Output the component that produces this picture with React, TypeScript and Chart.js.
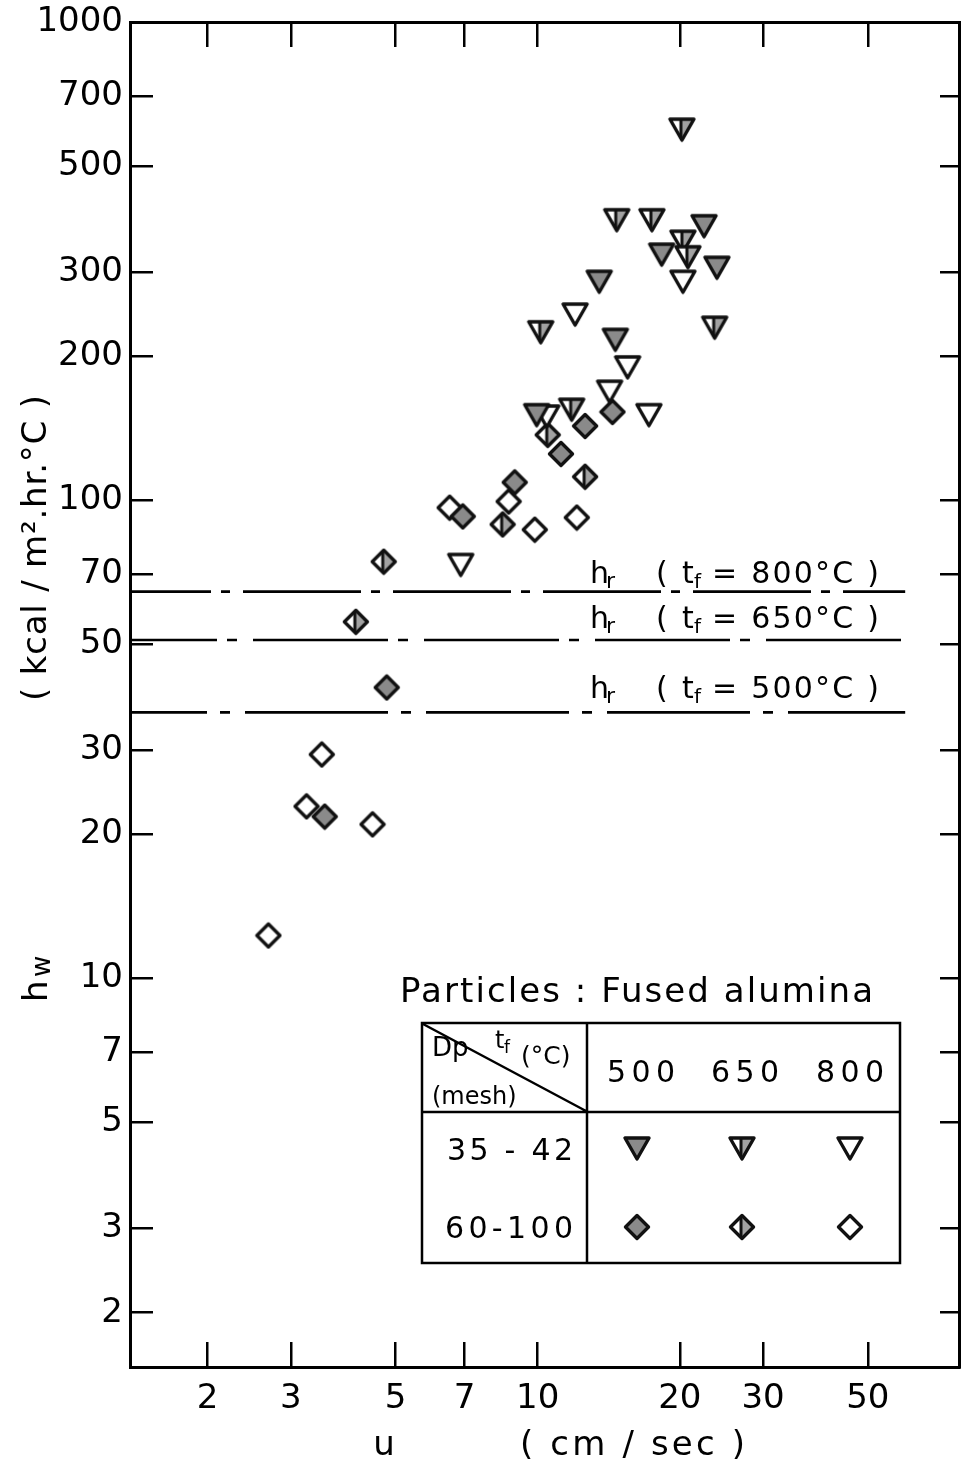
import React, { useEffect, useRef } from 'react';
import { Chart, registerables } from 'chart.js';

Chart.register(...registerables);

// ---------- data ----------
const X_TICKS = [2, 3, 5, 7, 10, 20, 30, 50];
const Y_TICKS = [2, 3, 5, 7, 10, 20, 30, 50, 70, 100, 200, 300, 500, 700, 1000];
const U_MIN = 1.37;
const U_MAX = 78;
const H_MIN = 1.54;
const H_MAX = 1000;

// 35-42 mesh (triangles)
const TRI_500_U = [22.5, 18.3, 23.96, 13.5, 14.6, 9.95];
const TRI_500_H = [375, 327, 307, 287, 217, 151];
const TRI_650_U = [20.2, 14.7, 17.45, 20.3, 20.8, 23.7, 10.15, 11.8];
const TRI_650_H = [597, 386, 386, 348, 323, 230, 225, 155];
const TRI_800_U = [20.3, 12.0, 15.5, 14.2, 17.2, 10.45, 6.87];
const TRI_800_H = [287, 245, 190, 169, 151, 150, 73.4];

// 60-100 mesh (diamonds)
const DIA_500_U = [14.4, 12.6, 11.2, 8.94, 6.94, 4.79, 3.54];
const DIA_500_H = [153, 143, 125, 109, 92.5, 40.6, 21.8];
const DIA_650_U = [10.5, 12.6, 8.43, 4.72, 4.12];
const DIA_650_H = [137, 112, 89, 74.4, 55.7];
const DIA_800_U = [8.68, 6.51, 9.86, 12.1, 3.49, 3.24, 4.47, 2.69];
const DIA_800_H = [99.4, 96.5, 86.8, 92, 29.4, 22.9, 21.0, 12.3];

// radiative coefficient lines
const HR_TEMPS = ['800', '650', '500'];
const HR_VALUES = [64.4, 51, 36];
const HR_U_END = 60;

const LEGEND_TEMPS = ['500', '650', '800'];
const LEGEND_MESH = ['35 - 42', '60-100'];

// ---------- styles ----------
const FONT = '"DejaVu Sans", "Liberation Sans", sans-serif';
const INK = '#000';
const HR_DASH = [
  [118, 10, 9, 13],
  [135, 10, 10, 16],
  [143, 13, 10, 15],
];
const HR_DASH_OFFSET = [37, 48, 66];
const HR_LABEL_BASE = [583, 628, 698];

type Shape = 'tri' | 'dia';
type Shade = 'full' | 'half' | 'none';

function makeMarker(shape: Shape, shade: Shade): HTMLCanvasElement {
  const size = shape === 'tri' ? 30 : 28;
  const c = document.createElement('canvas');
  c.width = size;
  c.height = size;
  const g = c.getContext('2d') as CanvasRenderingContext2D;
  const pts =
    shape === 'tri'
      ? [[3, 5], [27, 5], [15, 26]]
      : [[14, 2.5], [25.5, 14], [14, 25.5], [2.5, 14]];
  const path = () => {
    g.beginPath();
    pts.forEach(([x, y], i) => (i ? g.lineTo(x, y) : g.moveTo(x, y)));
    g.closePath();
  };
  path();
  g.fillStyle = '#fff';
  g.fill();
  if (shade === 'full') {
    path();
    g.fillStyle = '#8a8a8a';
    g.fill();
  }
  if (shade === 'half') {
    g.save();
    path();
    g.clip();
    g.fillStyle = '#a2a2a2';
    g.fillRect(size / 2, 0, size / 2, size);
    g.fillStyle = '#111';
    g.fillRect(size / 2 - 2.5, 0, 3, size);
    g.restore();
  }
  path();
  g.lineWidth = 3.4;
  g.lineJoin = 'round';
  g.strokeStyle = '#111';
  g.stroke();
  return c;
}

function spread(
  ctx: CanvasRenderingContext2D,
  text: string,
  x0: number,
  x1: number,
  y: number,
  size: number
) {
  ctx.font = `${size}px ${FONT}`;
  (ctx as any).letterSpacing = '0px';
  const w = ctx.measureText(text).width;
  const n = Array.from(text).length;
  const ls = n > 1 ? (x1 - x0 - w) / (n - 1) : 0;
  (ctx as any).letterSpacing = `${ls}px`;
  ctx.textAlign = 'left';
  ctx.textBaseline = 'alphabetic';
  ctx.fillText(text, x0, y);
  (ctx as any).letterSpacing = '0px';
}

function put(
  ctx: CanvasRenderingContext2D,
  text: string,
  x: number,
  y: number,
  size: number
) {
  ctx.font = `${size}px ${FONT}`;
  ctx.textAlign = 'left';
  ctx.textBaseline = 'alphabetic';
  ctx.fillText(text, x, y);
}

function fixSize(s: any, w: number | null, h: number | null) {
  if (w !== null) s.width = w;
  if (h !== null) s.height = h;
  s.paddingTop = 0;
  s.paddingBottom = 0;
  s.paddingLeft = 0;
  s.paddingRight = 0;
}

export default function App() {
  const ref = useRef<HTMLCanvasElement>(null);

  useEffect(() => {
    const canvas = ref.current as HTMLCanvasElement;
    const mk = {
      tri500: makeMarker('tri', 'full'),
      tri650: makeMarker('tri', 'half'),
      tri800: makeMarker('tri', 'none'),
      dia500: makeMarker('dia', 'full'),
      dia650: makeMarker('dia', 'half'),
      dia800: makeMarker('dia', 'none'),
    };

    const pts = (xs: number[], ys: number[]) => xs.map((x, i) => ({ x, y: ys[i] }));
    const scatter = (label: string, xs: number[], ys: number[], img: HTMLCanvasElement) => ({
      type: 'scatter' as const,
      label,
      data: pts(xs, ys),
      pointStyle: img,
      pointRadius: 13,
      pointHoverRadius: 13,
      showLine: false,
      clip: false,
    });
    const hrLine = (i: number) => ({
      type: 'scatter' as const,
      label: 'hr ' + HR_TEMPS[i],
      data: [
        { x: U_MIN, y: HR_VALUES[i] },
        { x: HR_U_END, y: HR_VALUES[i] },
      ],
      showLine: true,
      borderColor: INK,
      borderWidth: 2.6,
      borderDash: HR_DASH[i],
      borderDashOffset: HR_DASH_OFFSET[i],
      pointRadius: 0,
      fill: false,
    });

    const tickFont = { family: FONT, size: 34 };
    const logAxis = (tickLen: number) => ({
      type: 'logarithmic' as const,
      border: { display: true, color: INK, width: 3 },
      grid: {
        display: true,
        drawOnChartArea: false,
        drawTicks: true,
        tickLength: -tickLen,
        color: INK,
        lineWidth: 2.5,
      },
    });

    const annotations = {
      id: 'annotations',
      afterDraw(chart: any) {
        const ctx: CanvasRenderingContext2D = chart.ctx;
        ctx.save();
        ctx.fillStyle = INK;
        ctx.strokeStyle = INK;

        // y axis title
        ctx.save();
        ctx.translate(46, 701);
        ctx.rotate(-Math.PI / 2);
        spread(ctx, '( kcal / m\u00b2.hr.\u00b0C )', 0, 306, 0, 34);
        ctx.restore();
        ctx.save();
        ctx.translate(47, 1002);
        ctx.rotate(-Math.PI / 2);
        put(ctx, 'h', 0, 0, 34);
        put(ctx, 'w', 25, 3, 26);
        ctx.restore();

        // x axis title
        ctx.font = `34px ${FONT}`;
        ctx.textAlign = 'center';
        ctx.fillText('u', 384, 1455);
        spread(ctx, '( cm / sec )', 520, 745, 1455, 34);

        // h_r labels
        HR_TEMPS.forEach((t, i) => {
          const b = HR_LABEL_BASE[i];
          put(ctx, 'h', 590, b, 30);
          put(ctx, 'r', 606, b + 5, 22);
          put(ctx, '(', 656, b, 30);
          put(ctx, 't', 682, b, 30);
          put(ctx, 'f', 694, b + 5, 20);
          spread(ctx, `= ${t}\u00b0C )`, 712, 879, b, 30);
        });

        // legend title
        spread(ctx, 'Particles : Fused alumina', 400, 873, 1002, 34);

        // legend table
        ctx.lineWidth = 2.5;
        ctx.strokeRect(422, 1023, 478, 240);
        ctx.beginPath();
        ctx.moveTo(422, 1112);
        ctx.lineTo(900, 1112);
        ctx.moveTo(587, 1023);
        ctx.lineTo(587, 1263);
        ctx.moveTo(423, 1024);
        ctx.lineTo(586, 1111);
        ctx.stroke();

        put(ctx, 'Dp', 432, 1056, 26);
        put(ctx, 't', 495, 1048, 24);
        put(ctx, 'f', 504, 1053, 17);
        put(ctx, '(\u00b0C)', 521, 1064, 25);
        put(ctx, '(mesh)', 432, 1104, 24);

        const cols = [641, 745, 850];
        const colSpan = 34;
        LEGEND_TEMPS.forEach((t, i) => {
          spread(ctx, t, cols[i] - colSpan, cols[i] + colSpan, 1082, 30);
        });
        spread(ctx, LEGEND_MESH[0], 447, 573, 1160, 30);
        spread(ctx, LEGEND_MESH[1], 445, 573, 1238, 30);

        const markCols = [637, 742, 850];
        const rowTri = [mk.tri500, mk.tri650, mk.tri800];
        const rowDia = [mk.dia500, mk.dia650, mk.dia800];
        markCols.forEach((cx, i) => {
          const a = rowTri[i];
          ctx.drawImage(a, cx - a.width / 2, 1148 - a.height / 2);
          const d = rowDia[i];
          ctx.drawImage(d, cx - d.width / 2, 1227 - d.height / 2);
        });

        ctx.restore();
      },
    };

    const chart = new Chart(canvas, {
      type: 'scatter',
      data: {
        datasets: [
          scatter('35-42 mesh, 500 °C', TRI_500_U, TRI_500_H, mk.tri500),
          scatter('35-42 mesh, 650 °C', TRI_650_U, TRI_650_H, mk.tri650),
          scatter('35-42 mesh, 800 °C', TRI_800_U, TRI_800_H, mk.tri800),
          scatter('60-100 mesh, 500 °C', DIA_500_U, DIA_500_H, mk.dia500),
          scatter('60-100 mesh, 650 °C', DIA_650_U, DIA_650_H, mk.dia650),
          scatter('60-100 mesh, 800 °C', DIA_800_U, DIA_800_H, mk.dia800),
          hrLine(0),
          hrLine(1),
          hrLine(2),
        ] as any,
      },
      options: {
        responsive: false,
        animation: false,
        events: [],
        layout: { padding: 0, autoPadding: false },
        plugins: {
          legend: { display: false },
          tooltip: { enabled: false },
          title: { display: false },
        },
        scales: {
          x: {
            ...logAxis(25),
            position: 'bottom',
            min: U_MIN,
            max: U_MAX,
            afterBuildTicks: (s: any) => {
              s.ticks = X_TICKS.map((v) => ({ value: v }));
            },
            afterFit: (s: any) => fixSize(s, null, 96),
            ticks: {
              autoSkip: false,
              maxRotation: 0,
              minRotation: 0,
              padding: 37,
              color: INK,
              font: tickFont,
              callback: (v: any) => String(v),
            },
          },
          x2: {
            ...logAxis(25),
            position: 'top',
            min: U_MIN,
            max: U_MAX,
            afterBuildTicks: (s: any) => {
              s.ticks = X_TICKS.map((v) => ({ value: v }));
            },
            afterFit: (s: any) => fixSize(s, null, 22),
            ticks: { display: false, autoSkip: false },
          },
          y: {
            ...logAxis(23),
            position: 'left',
            min: H_MIN,
            max: H_MAX,
            afterBuildTicks: (s: any) => {
              s.ticks = Y_TICKS.map((v) => ({ value: v }));
            },
            afterFit: (s: any) => fixSize(s, 130, null),
            ticks: {
              autoSkip: false,
              padding: 30,
              color: INK,
              font: tickFont,
              callback: (v: any) => String(v),
            },
          },
          y2: {
            ...logAxis(19),
            position: 'right',
            min: H_MIN,
            max: H_MAX,
            afterBuildTicks: (s: any) => {
              s.ticks = Y_TICKS.map((v) => ({ value: v }));
            },
            afterFit: (s: any) => fixSize(s, 2, null),
            ticks: { display: false, autoSkip: false },
          },
        } as any,
      },
      plugins: [annotations],
    });

    return () => chart.destroy();
  }, []);

  return (
    <div
      style={{
        position: 'absolute',
        left: 0,
        top: 0,
        width: 961,
        height: 1463,
        background: '#fff',
      }}
    >
      <canvas ref={ref} width={961} height={1463} style={{ display: 'block' }} />
    </div>
  );
}
